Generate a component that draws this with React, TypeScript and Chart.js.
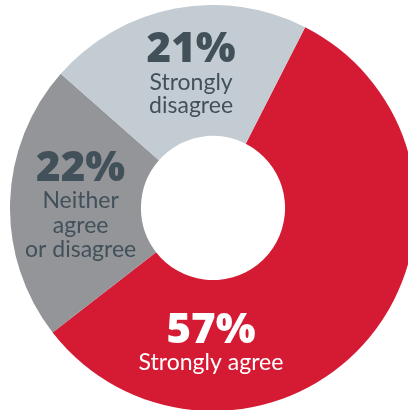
import React, { useEffect, useRef } from "react";
import { Chart, registerables } from "chart.js";

Chart.register(...registerables);

const categories = ["Strongly agree", "Neither agree or disagree", "Strongly disagree"];
const values = [57, 22, 21];
const percentLabels = ["57%", "22%", "21%"];
const labelLines = [["Strongly agree"], ["Neither", "agree", "or disagree"], ["Strongly", "disagree"]];
const colors = ["#D51B34", "#939598", "#C4CCD3"];
const textColors = ["#FFFFFF", "#42505A", "#42505A"];

// label layout relative to chart center, in units of outer radius
const labelLayout = [
  { dx: -0.01, pctBase: 0.663, lineBase: [0.8] },
  { dx: -0.652, pctBase: -0.135, lineBase: [0.002, 0.121, 0.239] },
  { dx: -0.108, pctBase: -0.717, lineBase: [-0.579, -0.466] },
];

const labelPlugin = {
  id: "donutLabels",
  afterDatasetsDraw(chart: any) {
    const meta = chart.getDatasetMeta(0);
    const ctx = chart.ctx;
    const first = meta.data[0];
    if (!first) return;
    const cx = first.x;
    const cy = first.y;
    const R = first.outerRadius;
    const s = R / 203;
    ctx.save();
    ctx.textAlign = "center";
    ctx.textBaseline = "alphabetic";
    meta.data.forEach((_: any, i: number) => {
      const L = labelLayout[i];
      const x = cx + L.dx * R;
      ctx.fillStyle = textColors[i];
      ctx.font = `800 ${Math.round(42 * s)}px "Open Sans"`;
      ctx.fillText(percentLabels[i], x, cy + L.pctBase * R);
      ctx.font = `${Math.round(23 * s)}px Lato`;
      labelLines[i].forEach((t, j) => {
        ctx.fillText(t, x, cy + L.lineBase[j] * R);
      });
    });
    ctx.restore();
  },
};

export default function App() {
  const ref = useRef<HTMLCanvasElement | null>(null);
  useEffect(() => {
    if (!ref.current) return;
    const chart = new Chart(ref.current, {
      type: "doughnut",
      data: {
        labels: categories,
        datasets: [
          {
            data: values,
            backgroundColor: colors,
            borderWidth: 0,
            hoverOffset: 0,
          },
        ],
      },
      options: {
        animation: false,
        responsive: true,
        maintainAspectRatio: false,
        rotation: 27,
        cutout: "35.5%",
        layout: { padding: 0 },
        plugins: {
          legend: { display: false },
          tooltip: { enabled: false },
        },
        events: [],
      },
      plugins: [labelPlugin],
    });
    return () => chart.destroy();
  }, []);
  return (
    <div
      style={{
        position: "fixed",
        left: 0,
        top: 0,
        width: 408,
        height: 410,
        overflow: "hidden",
        background: "#fff",
      }}
    >
      <div style={{ position: "absolute", left: 10, top: 4.5, width: 406, height: 406 }}>
        <canvas ref={ref} />
      </div>
    </div>
  );
}
